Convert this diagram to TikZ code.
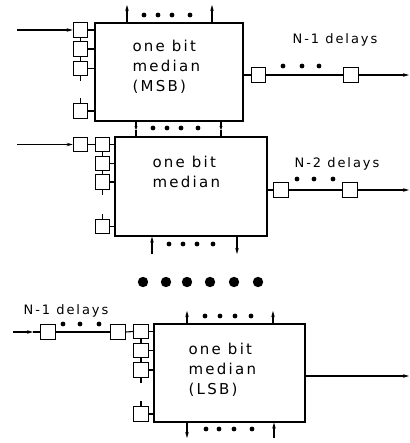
\documentclass[tikz,border=0pt]{standalone}
\usepackage{fontspec}
\setmainfont{DejaVu Sans}[LetterSpace=15]
\usetikzlibrary{arrows.meta}
\begin{document}
\begin{tikzpicture}[x=1pt,y=-1pt,line width=1.1pt,
  sq/.style={draw,minimum size=14.5pt,inner sep=0pt,fill=white},
  mbox/.style={draw,inner sep=0pt},
  arr/.style={-{Stealth[length=6pt,width=3.5pt]}},
  marr/.style={-{Stealth[length=4pt,width=3pt]}},
  lbl/.style={font=\fontsize{13}{20}\selectfont,inner sep=0pt,align=left},
  btxt/.style={font=\fontsize{15}{20}\selectfont,inner sep=0pt,align=left},
  sdot/.style={fill=black}]
\useasboundingbox (0,0) rectangle (409,443);

% ---------- block 1 (MSB) ----------
\node[mbox,minimum width=148pt,minimum height=98pt] (b1) at (169,72) {};
\node[btxt,anchor=west] (tx1) at (132,67) {one bit\\median\\(MSB)};
\node[sq] (a1) at (80.5,30) {};
\node[sq] (a2) at (80.5,49) {};
\node[sq] (a3) at (80.5,68.5) {};
\node[sq] (a4) at (80.5,111) {};
\coordinate (in1) at (17,30);
\draw[arr] (in1) -- (a1.west);
\foreach \n in {a1,a2,a3,a4} \draw (\n.east) -- (\n.east -| b1.west);
\draw (a1.south) -- (a2.north);
\draw (a2.south) -- (a3.north);
\draw (a3.south) -- ++(0,5);
\draw (a4.north) -- ++(0,-5);
\node[sq] (o1a) at (258.5,75) {};
\node[sq] (o1b) at (351,75) {};
\coordinate (out1) at (409,75);
\draw (o1a.west -| b1.east) -- (o1a.west);
\draw (o1a.east) -- (o1b.west);
\draw[arr] (o1b.east) -- (out1);
\foreach \x in {283,302,319} \fill[sdot] (\x,66) circle (2.4pt);
\node[lbl] (l1) at (335,40) {N-1 delays};
\coordinate (t1a) at (127,5);
\coordinate (t1b) at (212,5);
\draw[arr] (t1a |- b1.north) -- (t1a);
\draw[arr] (t1b |- b1.north) -- (t1b);
\foreach \x in {144,158,172,190} \fill[sdot] (\x,15) circle (2.4pt);

% ---------- block 2 ----------
\node[mbox,minimum width=152pt,minimum height=99pt] (b2) at (191,186.5) {};
\node[btxt,anchor=west] (tx2) at (152,172) {one bit\\median};
\coordinate (m1a) at (136,130);
\coordinate (m1b) at (221,130);
\draw[marr] (m1a |- b1.south) -- (m1a);
\draw (m1a) -- (m1a |- b2.north);
\draw[marr] (m1b |- b1.south) -- (m1b);
\draw (m1b) -- (m1b |- b2.north);
\foreach \x in {153,167,181,198} \fill[sdot] (\x,128) circle (2.4pt);
\node[sq] (d2) at (80.5,144.5) {};
\node[sq] (c1) at (102.5,144.5) {};
\node[sq] (c2) at (102.5,163.5) {};
\node[sq] (c3) at (102.5,182) {};
\node[sq] (c4) at (102.5,226.5) {};
\coordinate (in2) at (17,144.5);
\draw[arr] (in2) -- (d2.west);
\draw (d2.east) -- (c1.west);
\foreach \n in {c1,c2,c3,c4} \draw (\n.east) -- (\n.east -| b2.west);
\draw (c1.south) -- (c2.north);
\draw (c2.south) -- (c3.north);
\draw (c3.south) -- ++(0,5);
\draw (c4.north) -- ++(0,-5);
\node[sq] (o2a) at (281,190) {};
\node[sq] (o2b) at (350,190) {};
\coordinate (out2) at (409,190);
\draw (o2a.west -| b2.east) -- (o2a.west);
\draw (o2a.east) -- (o2b.west);
\draw[arr] (o2b.east) -- (out2);
\foreach \x in {297,314,333} \fill[sdot] (\x,179) circle (2.4pt);
\node[lbl] (l2) at (337,164) {N-2 delays};
\coordinate (u2a) at (152,254);
\coordinate (u2b) at (237,254);
\draw[arr] (u2a) -- (u2a |- b2.south);
\draw[arr] (u2b |- b2.south) -- (u2b);
\foreach \x in {169,183,197,213} \fill[sdot] (\x,244) circle (2.4pt);

% ---------- big dots ----------
\foreach \x in {143,166,187,210,234,258} \fill[sdot] (\x,282) circle (5.2pt);

% ---------- block 3 (LSB) ----------
\node[mbox,minimum width=151pt,minimum height=98pt] (b3) at (229.5,373) {};
\node[btxt,anchor=west] (tx3) at (188,370) {one bit\\median\\(LSB)};
\node[lbl] (l3) at (66,311) {N-1 delays};
\node[sq] (e1) at (48,332) {};
\node[sq] (e2) at (118,332) {};
\node[sq] (f1) at (141,331.5) {};
\node[sq] (f2) at (141,350.5) {};
\node[sq] (f3) at (141,370) {};
\node[sq] (f4) at (141,414) {};
\coordinate (in3) at (13,332);
\coordinate (in3h) at (33,332);
\draw[arr] (in3) -- (in3h);
\draw (in3h) -- (e1.west);
\draw (e1.east) -- (e2.west);
\draw (e2.east) -- (f1.west);
\foreach \x in {63,80,99} \fill[sdot] (\x,324) circle (2.4pt);
\foreach \n in {f1,f2,f3,f4} \draw (\n.east) -- (\n.east -| b3.west);
\draw (f1.south) -- (f2.north);
\draw (f2.south) -- (f3.north);
\draw (f3.south) -- ++(0,5);
\draw (f4.north) -- ++(0,-5);
\coordinate (t3a) at (187,311);
\coordinate (t3b) at (273,311);
\draw[arr] (t3a |- b3.north) -- (t3a);
\draw[arr] (t3b |- b3.north) -- (t3b);
\foreach \x in {205,220,235,251} \fill[sdot] (\x,316) circle (2.4pt);
\coordinate (u3a) at (187,438);
\coordinate (u3b) at (274,438);
\draw[arr] (u3a |- b3.south) -- (u3a);
\draw[arr] (u3b) -- (u3b |- b3.south);
\foreach \x in {206,219,234,252} \fill[sdot] (\x,429) circle (2.4pt);
\coordinate (out3) at (409,376);
\draw[arr] (out3 -| b3.east) -- (out3);
\end{tikzpicture}
\end{document}
